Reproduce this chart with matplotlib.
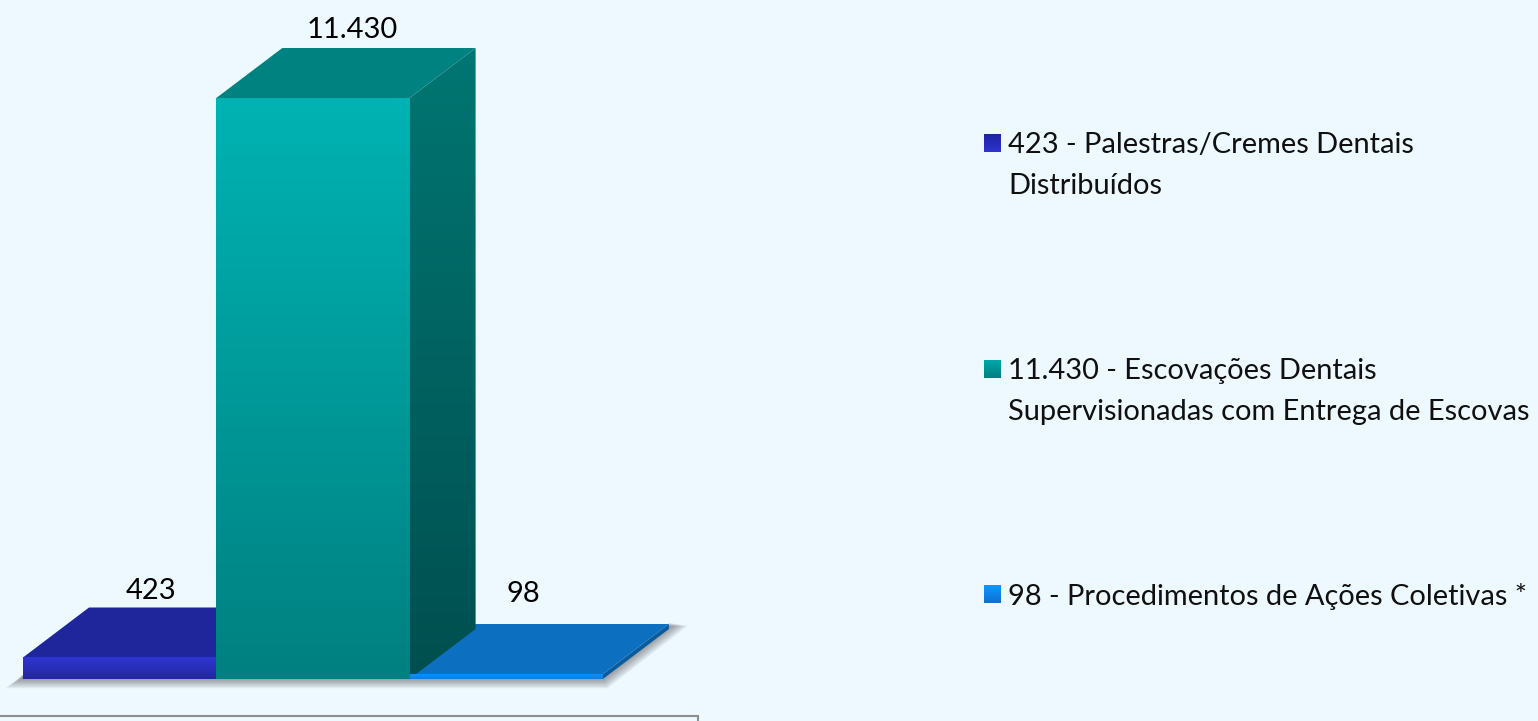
import numpy as np
from matplotlib import pyplot as plt
from matplotlib.colors import to_rgb
from matplotlib.patches import Polygon, Rectangle

plt.rcParams['font.family'] = ['Lato', 'DejaVu Sans']

values = [423, 11430, 98]
value_labels = ["423", "11.430", "98"]
legend_lines = [
    "423 - Palestras/Cremes Dentais\nDistribuídos",
    "11.430 - Escovações Dentais\nSupervisionadas com Entrega de Escovas",
    "98 - Procedimentos de Ações Coletivas *",
]

# front top/bottom, side top/bottom, top face
front_colors = [("#2F35D2", "#23279F"), ("#00B3B3", "#008080"), ("#0C90FF", "#0A80E0")]
side_colors = [("#181C70", "#181C70"), ("#007672", "#004F4F"), ("#0A5C9C", "#0A5C9C")]
top_colors = ["#1F259B", "#008280", "#0C6FBF"]
legend_colors = [("#1E22A0", "#2E34D0"), ("#00A8A8", "#007F7F"), ("#1098FF", "#0C6FD0")]
label_px = [(151, 591), (352, 30), (523, 594)]
legend_px = [(984, 143), (984, 369), (984, 594)]

W, H = 1538, 721
BASE_Y = 679
PX_PER_UNIT = (679 - 98) / 11430
BAR_W = 193.3
LEFT = 23
DX, DY = 66 / BAR_W, 50 / PX_PER_UNIT
BG = "#EDF8FF"

fig = plt.figure(figsize=(W / 100, H / 100), dpi=100, facecolor=BG)
ax = fig.add_axes([0, 0, 1, 1])
ax.axis("off")


def x_of(px):
    return (px - LEFT) / BAR_W


def y_of(py):
    return (BASE_Y - py) / PX_PER_UNIT


def grad_poly(pts, c_top, c_bottom, z):
    # vertical gradient clipped to a polygon
    xs = [p[0] for p in pts]
    ys = [p[1] for p in pts]
    t = np.linspace(0, 1, 200)[:, None, None]
    img = np.array(to_rgb(c_top))[None, None, :] * (1 - t) + np.array(to_rgb(c_bottom))[None, None, :] * t
    im = ax.imshow(img, extent=[min(xs), max(xs), min(ys), max(ys)], origin="upper",
                   aspect="auto", zorder=z, interpolation="bilinear")
    poly = Polygon(pts, closed=True, transform=ax.transData, fc="none", ec="none")
    ax.add_patch(poly)
    im.set_clip_path(poly)


# soft shadow under the bars
for k in range(8):
    s = k * 2.2
    ax.add_patch(Polygon([(x_of(LEFT - s - 2), y_of(BASE_Y + s * 0.6)),
                          (x_of(603 + s * 0.3), y_of(BASE_Y + s * 0.6)),
                          (x_of(669 + s + 3), y_of(626)),
                          (x_of(669), y_of(626 - s * 0.2)),
                          (x_of(603), y_of(BASE_Y - 4)),
                          (x_of(LEFT), y_of(BASE_Y - 4))],
                         closed=True, fc="#303030", ec="none", alpha=0.07, zorder=1))

for i in [0, 2, 1]:
    v = values[i]
    z = 5 if i == 1 else 3
    front = [(i, 0), (i + 1, 0), (i + 1, v), (i, v)]
    side = [(i + 1, 0), (i + 1 + DX, DY), (i + 1 + DX, v + DY), (i + 1, v)]
    top = [(i, v), (i + 1, v), (i + 1 + DX, v + DY), (i + DX, v + DY)]
    grad_poly(side, side_colors[i][0], side_colors[i][1], z)
    ax.add_patch(Polygon(top, closed=True, fc=top_colors[i], ec="none", zorder=z + 0.1))
    # the last bar's front strip sits over the foot of the tall bar's side
    front_z = 5.15 if i == 2 else z + 0.2
    grad_poly(front, front_colors[i][0], front_colors[i][1], front_z)

for lab, (px, py) in zip(value_labels, label_px):
    ax.text(x_of(px), y_of(py), lab, fontsize=21, color="black", ha="center", va="center", zorder=10)

# legend
for (px, py), txt, cols in zip(legend_px, legend_lines, legend_colors):
    x0, x1 = x_of(px), x_of(px + 17)
    y0, y1 = y_of(py + 9), y_of(py - 9)
    grad_poly([(x0, y0), (x1, y0), (x1, y1), (x0, y1)], cols[0], cols[1], 6)
    for j, line in enumerate(txt.split("\n")):
        ax.text(x_of(px + 24), y_of(py + 2 + 41 * j), line, fontsize=20.9, color="#101010",
                va="center", ha="left", zorder=10)

# box at the bottom, cut by the picture edge
ax.add_patch(Rectangle((x_of(-5), y_of(730)), x_of(698) - x_of(-5), y_of(716) - y_of(730),
                       fc="none", ec="#8C8F90", lw=1.5, zorder=2))

ax.set_xlim(-LEFT / BAR_W, (W - LEFT) / BAR_W)
ax.set_ylim(-(H - BASE_Y) / PX_PER_UNIT, BASE_Y / PX_PER_UNIT)

fig.savefig("out.png", dpi=100, facecolor=BG)
